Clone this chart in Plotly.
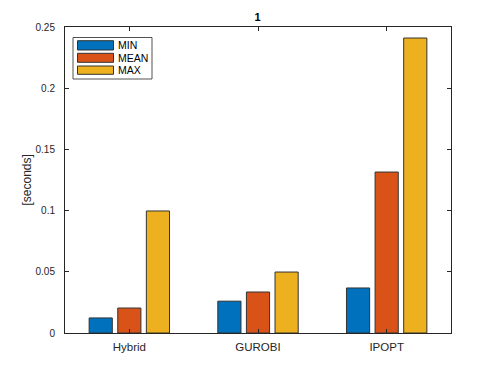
import plotly.graph_objects as go

categories = ["Hybrid", "GUROBI", "IPOPT"]
series_names = ["MIN", "MEAN", "MAX"]
min_vals = [0.0123, 0.026, 0.0368]
mean_vals = [0.0204, 0.0335, 0.1315]
max_vals = [0.0997, 0.0498, 0.241]
colors = ["#0072BD", "#D95319", "#EDB120"]
y_ticks = [0, 0.05, 0.1, 0.15, 0.2, 0.25]
y_tick_labels = ["0", "0.05", "0.1", "0.15", "0.2", "0.25"]

OFF = 8  # default body margin of the html page
W, H = 498 - OFF, 374 - OFF
L, R, T, B = 65, 451, 27, 333  # plot area in screen pixels
FONT = "Liberation Sans, Arial, Helvetica, sans-serif"
AX = "#262626"

fig = go.Figure()
for name, vals, c in zip(series_names, [min_vals, mean_vals, max_vals], colors):
    fig.add_trace(go.Bar(x=categories, y=vals, name=name, marker_color=c,
                         marker_line_color="#333333", marker_line_width=1,
                         showlegend=False))

def px(x):
    return (x - L) / (R - L)

def py(y):
    return (B - y) / (B - T)

shapes = []
annotations = []
shapes.append(dict(type="rect", xref="paper", yref="paper",
                   x0=px(73), x1=px(152), y0=py(79), y1=py(37.5),
                   line=dict(color=AX, width=0.8), fillcolor="white", layer="above"))
rows = [(40.7, 50), (53.3, 62.3), (66, 74.3)]
for (y0, y1), c, name in zip(rows, colors, series_names):
    shapes.append(dict(type="rect", xref="paper", yref="paper",
                       x0=px(77.5), x1=px(113.5), y0=py(y1), y1=py(y0),
                       line=dict(color="#333333", width=1), fillcolor=c, layer="above"))
    annotations.append(dict(xref="paper", yref="paper", x=px(116), y=py((y0 + y1) / 2),
                            text=name, showarrow=False, xanchor="left", yanchor="middle",
                            font=dict(family=FONT, size=10.5, color="#000000")))

# y-axis title
annotations.append(dict(xref="paper", yref="paper", x=px(26.5), y=py(180),
                        text="[seconds]", textangle=-90, showarrow=False,
                        xanchor="center", yanchor="middle",
                        font=dict(family=FONT, size=12, color=AX)))

fig.update_layout(
    width=W, height=H,
    margin=dict(l=L - OFF, r=W - (R - OFF), t=T - OFF, b=H - (B - OFF), pad=0),
    paper_bgcolor="white", plot_bgcolor="white",
    barmode="group", bargap=0.333, bargroupgap=0.19,
    title=dict(text="<b>1</b>", x=(257.5 - OFF) / W, xanchor="center",
               y=1 - (17 - OFF) / H, yanchor="middle",
               font=dict(family=FONT, size=11, color="#000000")),
    font=dict(family=FONT, size=10, color=AX),
    shapes=shapes, annotations=annotations,
    xaxis=dict(showline=True, linecolor=AX, linewidth=1, mirror="ticks",
               ticks="inside", ticklen=4, tickcolor=AX, showgrid=False,
               tickfont=dict(family=FONT, size=11.5, color=AX), range=[-0.5, 2.5],
               ticklabelstandoff=3),
    yaxis=dict(showline=True, linecolor=AX, linewidth=1, mirror="ticks",
               ticks="inside", ticklen=4, tickcolor=AX, showgrid=False, zeroline=False,
               range=[0, 0.25], tickvals=y_ticks, ticktext=y_tick_labels,
               tickfont=dict(family=FONT, size=10, color=AX), ticklabelstandoff=7),
)
fig.write_html("out.html")
